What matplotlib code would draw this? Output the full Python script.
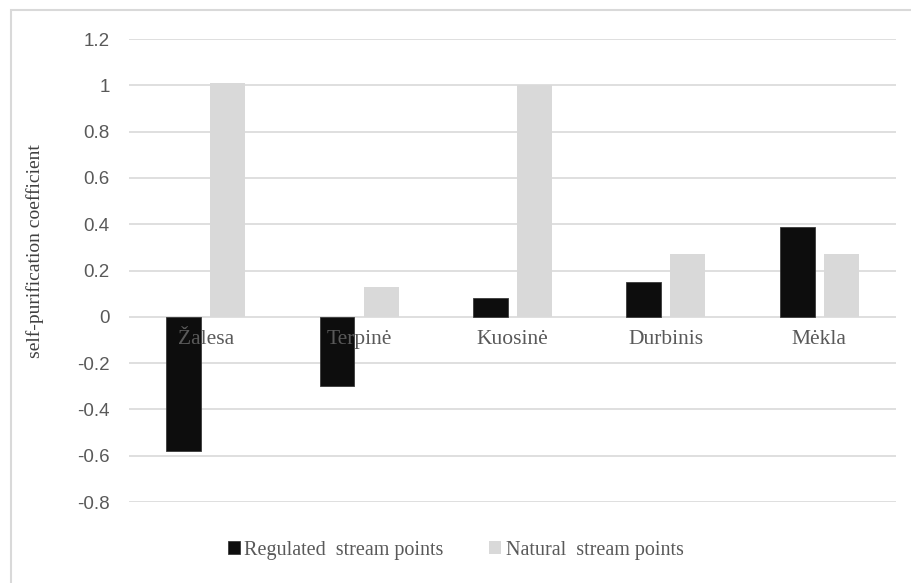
import numpy as np
import matplotlib
matplotlib.use('Agg')
from matplotlib import pyplot as plt
from matplotlib.patches import Rectangle
from matplotlib.ticker import FuncFormatter

plt.rcParams['axes.unicode_minus'] = False

# self-purification coefficient per stream
streams = ['Žalesa', 'Terpinė', 'Kuosinė', 'Durbinis', 'Mėkla']
regulated = [-0.58, -0.30, 0.08, 0.15, 0.39]
natural = [1.01, 0.13, 1.00, 0.27, 0.27]
series_names = ['Regulated  stream points', 'Natural  stream points']
yticks = [-0.8, -0.6, -0.4, -0.2, 0, 0.2, 0.4, 0.6, 0.8, 1, 1.2]

fig = plt.figure(figsize=(9.11, 5.83), dpi=100)
ax = fig.add_axes([0.1416, 0.1389, 0.8419, 0.7942])

# light outer frame of the chart area, clipped at right and bottom
fig.patches.append(Rectangle((11 / 911, -0.1), 1.2, 1 - 10 / 583 + 0.1,
                             transform=fig.transFigure, fill=False,
                             edgecolor='#d9d9d9', linewidth=1.5))

x = np.arange(len(streams))
width = 0.228
offset = 0.144
ax.bar(x - offset, regulated, width, color='#0d0d0d', edgecolor='#3a3a3a',
       linewidth=0.6, label=series_names[0], zorder=3)
ax.bar(x + offset, natural, width, color='#d9d9d9', label=series_names[1],
       zorder=3)

ax.set_xlim(-0.5, len(streams) - 0.5)
ax.set_ylim(-0.8, 1.2)
ax.set_yticks(yticks)
ax.yaxis.set_major_formatter(FuncFormatter(lambda v, p: '%g' % round(v, 1)))
ax.tick_params(axis='y', length=0, pad=14, labelsize=13.5,
               labelcolor='#595959')
for t in ax.get_yticklabels():
    t.set_family('Liberation Sans')
ax.set_xticks([])
ax.grid(axis='y', color='#d9d9d9', linewidth=1.2, zorder=0)
for s in ax.spines.values():
    s.set_visible(False)

# category names sit just below the zero line, over the bars
for xi, name in zip(x, streams):
    ax.text(xi, -0.1, name, ha='center', va='center', fontsize=15.5,
            family='Liberation Serif', color='#595959', zorder=4)

fig.text(0.038, 0.569, 'self-purification coefficient', rotation=90,
         ha='center', va='center', fontsize=14, family='Liberation Serif',
         color='#404040')

fig.legend(loc='center', bbox_to_anchor=(0.5, 0.056), ncol=2, frameon=False,
           prop={'family': 'Liberation Serif', 'size': 14.5},
           handlelength=0.6, handleheight=0.6, handletextpad=0.2,
           columnspacing=2.3, labelcolor='#595959')

fig.savefig('out.png', dpi=100)
